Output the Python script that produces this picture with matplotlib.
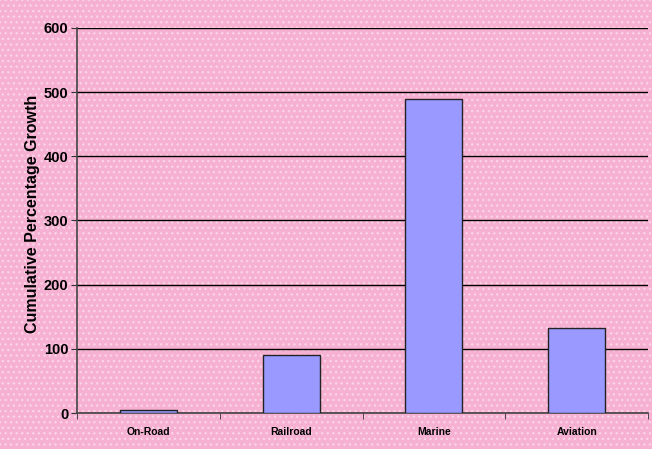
import matplotlib
matplotlib.use("Agg")
import matplotlib.pyplot as plt
import numpy as np

categories = ["On-Road", "Railroad", "Marine", "Aviation"]
values = [5, 90, 489, 133]
yticks = [0, 100, 200, 300, 400, 500, 600]

plt.rcParams["font.family"] = ["Liberation Sans", "DejaVu Sans"]

pink = "#F6B0D2"
tex = "#FBD3E6"
fig = plt.figure(figsize=(6.52, 4.49), dpi=100, facecolor=pink)
ax = fig.add_axes([0.118, 0.080, 0.876, 0.858])
ax.set_facecolor(pink)

# subtle texture
ax.patch.set_hatch("...")
ax.patch.set_edgecolor(tex)
fig.patch.set_hatch("...")
fig.patch.set_edgecolor(tex)

x = np.arange(len(categories))
ax.bar(x, values, width=0.4, color="#9999FF", edgecolor="#222222", linewidth=1, zorder=3)

ax.set_xlim(-0.5, len(categories) - 0.5)
ax.set_ylim(0, 600)
ax.set_yticks(yticks)
ax.set_yticklabels([str(v) for v in yticks], fontsize=10.5, fontweight="bold")
ax.set_xticks(x)
ax.set_xticklabels(categories, fontsize=7.5, fontweight="bold")
ax.tick_params(axis="x", length=0, pad=10)
ax.set_xticks(np.arange(-0.5, len(categories)), minor=True)
ax.tick_params(axis="x", which="minor", length=4, direction="out", color="#333333")
ax.tick_params(axis="y", length=4, direction="out", color="#333333", pad=2)

ax.grid(axis="y", color="black", linewidth=1, zorder=1)
ax.set_axisbelow(True)
for s in ["top", "right"]:
    ax.spines[s].set_visible(False)
for s in ["left", "bottom"]:
    ax.spines[s].set_color("#444444")
    ax.spines[s].set_linewidth(1.2)

ax.set_ylabel("Cumulative Percentage Growth", fontsize=11.5, fontweight="bold", labelpad=4)
ax.yaxis.set_label_coords(-0.065, 0.518)

fig.savefig("out.png", dpi=100, facecolor=pink)
